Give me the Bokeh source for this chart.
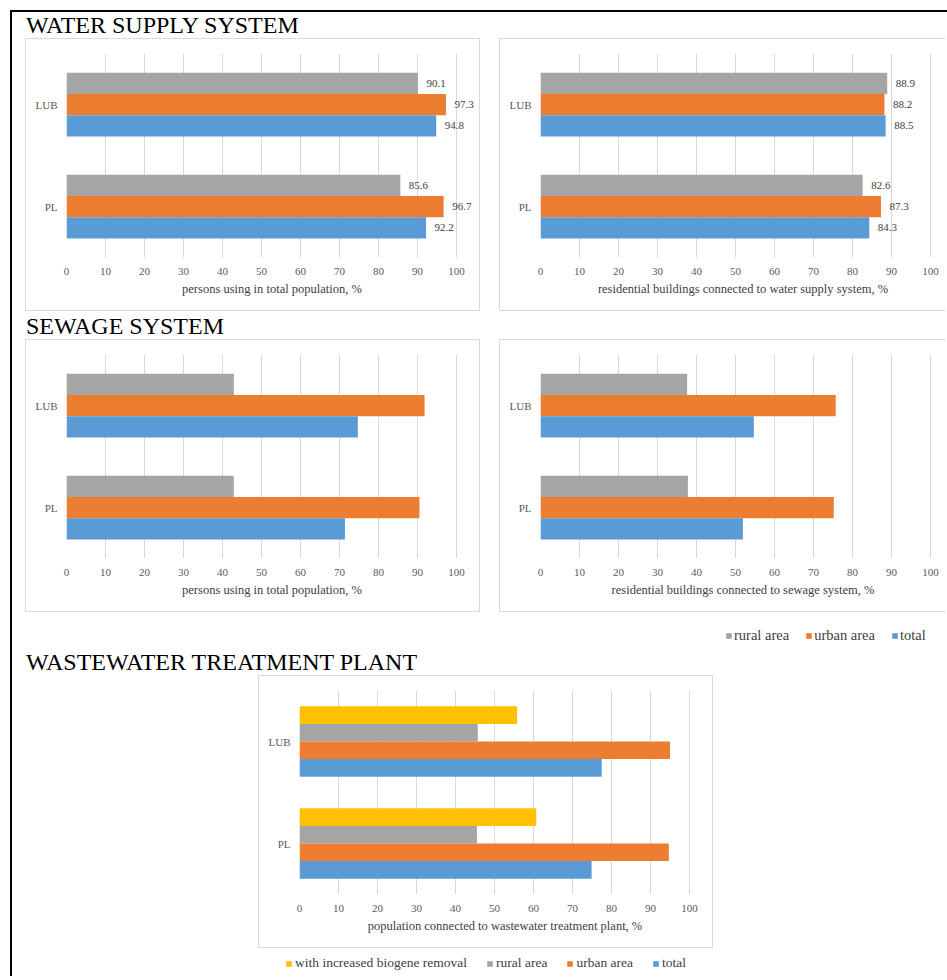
import numpy as np
from bokeh.plotting import figure
from bokeh.models import (FactorRange, Range1d, FixedTicker, Div, Spacer, Legend,
                          LegendItem, ColumnDataSource)
from bokeh.layouts import column, row
from bokeh.transform import dodge
from bokeh.core.properties import value
from bokeh.embed import file_html
from bokeh.resources import INLINE

# ---------------- data ----------------
CATEGORIES = ["LUB", "PL"]
SERIES = ["rural area", "urban area", "total"]
WWTP_SERIES = ["with increased biogene removal", "rural area", "urban area", "total"]
X_TICKS = [0, 10, 20, 30, 40, 50, 60, 70, 80, 90, 100]

SECTION_TITLES = ["WATER SUPPLY SYSTEM", "SEWAGE SYSTEM", "WASTEWATER TREATMENT PLANT"]
AXIS_TITLES = [
    "persons using in total population, %",
    "residential buildings connected to water supply system, %",
    "persons using in total population, %",
    "residential buildings connected to sewage system, %",
    "population connected to wastewater treatment plant, %",
]

water_persons_rural = [90.1, 85.6]
water_persons_urban = [97.3, 96.7]
water_persons_total = [94.8, 92.2]

water_buildings_rural = [88.9, 82.6]
water_buildings_urban = [88.2, 87.3]
water_buildings_total = [88.5, 84.3]

sewage_persons_rural = [42.9, 42.9]
sewage_persons_urban = [91.8, 90.5]
sewage_persons_total = [74.7, 71.4]

sewage_buildings_rural = [37.6, 37.8]
sewage_buildings_urban = [75.7, 75.2]
sewage_buildings_total = [54.7, 51.9]

wwtp_biogene = [55.8, 60.7]
wwtp_rural = [45.7, 45.5]
wwtp_urban = [95.0, 94.7]
wwtp_total = [77.5, 74.9]

COLORS = {
    "with increased biogene removal": "#FFC000",
    "rural area": "#A5A5A5",
    "urban area": "#ED7D31",
    "total": "#5B9BD5",
}

SERIF = "Liberation Serif"
INNER_W = 935
PX_PER_UNIT = 3.9
GRID = "#d9d9d9"


def panel(series_names, series_values, axis_title, width, open_right, occupancy, show_values):
    frame_left = 41
    frame_right = width - (3 if not open_right else 0)
    x_end = (frame_right - frame_left) / PX_PER_UNIT
    if open_right:
        shadow = f"inset 1px 1px 0 0 {GRID}, inset 0 -1px 0 0 {GRID}"
    else:
        shadow = f"inset 0 0 0 1px {GRID}"
    p = figure(width=width, height=273,
               x_range=Range1d(0, x_end),
               y_range=FactorRange(factors=CATEGORIES[::-1]),
               output_backend="svg", toolbar_location=None,
               min_border_left=frame_left, min_border_right=width - frame_right,
               min_border_top=15, min_border_bottom=54,
               border_fill_color=None, background_fill_color=None,
               outline_line_color=None,
               styles={"box-shadow": shadow})
    data = {"cat": CATEGORIES}
    n = len(series_names)
    h = occupancy / n
    for i, vals in enumerate(series_values):
        data[f"s{i}"] = vals
        data[f"t{i}"] = [f"{v:.1f}" for v in vals]
    src = ColumnDataSource(data)
    for i, name in enumerate(series_names):
        off = ((n - 1) / 2 - i) * h
        p.hbar(y=dodge("cat", off, range=p.y_range), left=0, right=f"s{i}", height=h,
               source=src, fill_color=COLORS[name], line_color=None)
        if show_values:
            p.text(x=f"s{i}", y=dodge("cat", off, range=p.y_range), text=f"t{i}",
                   source=src, x_offset=8.5, text_align="left", text_baseline="middle",
                   text_font=value(SERIF), text_font_size="11px", text_color="#404040")

    p.xaxis.ticker = FixedTicker(ticks=X_TICKS)
    p.xgrid.ticker = FixedTicker(ticks=X_TICKS)
    p.xgrid.grid_line_color = GRID
    p.xgrid.grid_line_width = 1
    p.ygrid.grid_line_color = None

    for ax in (p.xaxis[0], p.yaxis[0]):
        ax.axis_line_color = None
        ax.major_tick_line_color = None
        ax.minor_tick_line_color = None
        ax.major_tick_out = 0
        ax.major_tick_in = 0
        ax.major_label_text_font = SERIF
        ax.major_label_text_font_size = "11px"
        ax.major_label_text_color = "#595959"
    p.xaxis.major_label_standoff = 10
    p.yaxis.major_label_standoff = 9
    p.xaxis.axis_label = axis_title
    p.xaxis.axis_label_text_font = SERIF
    p.xaxis.axis_label_text_font_size = "12.5px"
    p.xaxis.axis_label_text_font_style = "normal"
    p.xaxis.axis_label_text_color = "#404040"
    p.xaxis.axis_label_standoff = 4
    return p


def title_div(text, height, pad_top):
    html = (f'<div style="font-family:\'{SERIF}\'; font-size:24px; line-height:24px; '
            f'color:#000; white-space:nowrap; margin-left:14px; padding-top:{pad_top}px;">'
            f'{text}</div>')
    return Div(text=html, width=INNER_W, height=height, margin=(0, 0, 0, 0))


def legend_fig(height, names, loc, font_size, spacing, standoff, label_h):
    p = figure(width=INNER_W, height=height, x_range=Range1d(0, 1), y_range=Range1d(0, 1),
               output_backend="svg", toolbar_location=None, min_border=0,
               x_axis_location=None, y_axis_location=None, outline_line_color=None,
               border_fill_color=None, background_fill_color=None)
    p.grid.visible = False
    items = []
    for name in names:
        # legend proxy: a single NaN bar, never drawn, only used for the swatch
        r = p.hbar(y=[np.nan], right=[np.nan], left=0, height=0.1,
                   fill_color=COLORS[name], line_color=None)
        items.append(LegendItem(label=name, renderers=[r]))
    lg = Legend(items=items, orientation="horizontal", location=loc,
                glyph_width=7, glyph_height=7, label_height=label_h,
                label_standoff=standoff, spacing=spacing, padding=0, margin=0,
                border_line_color=None, background_fill_alpha=0,
                label_text_font=SERIF, label_text_font_size=font_size,
                label_text_color="#404040", label_text_baseline="alphabetic")
    p.add_layout(lg, "center")
    return p


p1 = panel(SERIES, [water_persons_rural, water_persons_urban, water_persons_total],
           AXIS_TITLES[0], 455, False, 0.625, True)
p2 = panel(SERIES, [water_buildings_rural, water_buildings_urban, water_buildings_total],
           AXIS_TITLES[1], 446, True, 0.625, True)
p3 = panel(SERIES, [sewage_persons_rural, sewage_persons_urban, sewage_persons_total],
           AXIS_TITLES[2], 455, False, 0.625, False)
p4 = panel(SERIES, [sewage_buildings_rural, sewage_buildings_urban, sewage_buildings_total],
           AXIS_TITLES[3], 446, True, 0.625, False)
p5 = panel(WWTP_SERIES, [wwtp_biogene, wwtp_rural, wwtp_urban, wwtp_total],
           AXIS_TITLES[4], 455, False, 0.69, False)

leg1 = legend_fig(36, SERIES, (713, 4), "14.5px", 16, 2, 17)
leg2 = legend_fig(28, WWTP_SERIES, (273, 5), "13.5px", 19, 3, 16)

layout = column(
    title_div(SECTION_TITLES[0], 26, 1),
    row(Spacer(width=13, height=273), p1, Spacer(width=19, height=273), p2, spacing=0),
    title_div(SECTION_TITLES[1], 28, 3),
    row(Spacer(width=13, height=273), p3, Spacer(width=19, height=273), p4, spacing=0),
    leg1,
    title_div(SECTION_TITLES[2], 27, 2),
    row(Spacer(width=246, height=273), p5, spacing=0),
    leg2,
    spacing=0,
    styles={"margin-left": "10px", "margin-top": "10px",
            "border-left": "2px solid #000", "border-top": "2px solid #000"},
)

open("out.html", "w").write(file_html(layout, INLINE))
